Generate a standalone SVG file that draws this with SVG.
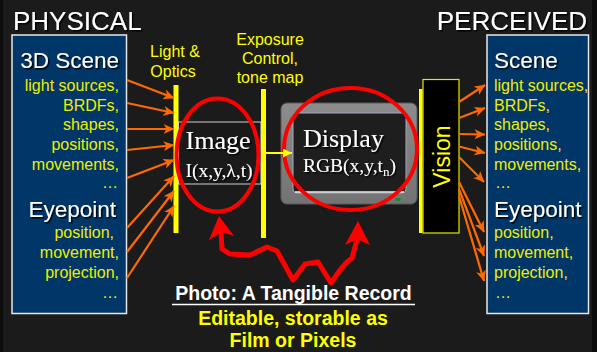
<svg xmlns="http://www.w3.org/2000/svg" width="597" height="352" viewBox="0 0 597 352">
  <defs>
    <filter id="shadow" x="-10%" y="-20%" width="130%" height="160%">
      <feDropShadow dx="1.5" dy="1.5" stdDeviation="0.4" flood-color="#000" flood-opacity="0.9"/>
    </filter>
    <marker id="orangeHead" markerUnits="userSpaceOnUse" markerWidth="11" markerHeight="10" viewBox="0 0 11 10" refX="10.5" refY="5" orient="auto">
      <path d="M0,0 L11,5 L0,10 L3,5 z" fill="#ff6a00"/>
    </marker>
    <marker id="yellowHead" markerUnits="userSpaceOnUse" markerWidth="9" markerHeight="9" viewBox="0 0 9 9" refX="9" refY="4.5" orient="auto">
      <path d="M0,0 L9,4.5 L0,9 z" fill="#ffff00"/>
    </marker>
    <linearGradient id="bezel" x1="0" y1="0" x2="0" y2="1">
      <stop offset="0" stop-color="#8c8c8c"/>
      <stop offset="1" stop-color="#737373"/>
    </linearGradient>
  </defs>
  <style>
    .title { font-family: "Liberation Sans", Arial, sans-serif; font-size: 26px; fill: #ffffff; }
    .head { font-family: "Liberation Sans", Arial, sans-serif; font-size: 22.5px; fill: #ffffff; }
    .item { font-family: "Liberation Sans", Arial, sans-serif; font-size: 16px; fill: #eeee00; }
    .label { font-family: "Liberation Sans", Arial, sans-serif; font-size: 16px; fill: #ffff00; text-anchor: middle; }
    .serif { font-family: "Liberation Serif", "Times New Roman", serif; fill: #ffffff; }
    .bold { font-family: "Liberation Sans", Arial, sans-serif; font-size: 19.5px; font-weight: bold; text-anchor: middle; }
    .box { fill: #003668; stroke: #e8e8e8; stroke-width: 1.5; }
    .bar { fill: #ffff00; }
    .ring { fill: none; stroke: #ff0000; stroke-width: 4; }
    .ray { stroke: #ff6a00; stroke-width: 2.2; fill: none; marker-end: url(#orangeHead); }
  </style>

  <!-- backdrop -->
  <rect x="0" y="0" width="597" height="352" fill="#1b1b1b"/>
  <rect x="0" y="0" width="3" height="352" fill="#0c0c0c"/>
  <rect x="592" y="0" width="5" height="352" fill="#0c0c0c"/>

  <!-- column titles -->
  <text class="title" x="13" y="30" filter="url(#shadow)">PHYSICAL</text>
  <text class="title" x="587" y="30" text-anchor="end" filter="url(#shadow)">PERCEIVED</text>

  <!-- physical scene box -->
  <g id="physical">
    <rect class="box" x="12" y="35" width="114.5" height="278.5"/>
    <g text-anchor="end">
      <text class="head" x="119" y="68" filter="url(#shadow)">3D Scene</text>
      <text class="item" x="119" y="91">light sources,</text>
      <text class="item" x="119" y="111">BRDFs,</text>
      <text class="item" x="119" y="130">shapes,</text>
      <text class="item" x="119" y="150">positions,</text>
      <text class="item" x="119" y="170">movements,</text>
      <text class="item" x="118" y="188">…</text>
      <text class="head" x="116" y="217" filter="url(#shadow)">Eyepoint</text>
      <text class="item" x="114" y="238">position,</text>
      <text class="item" x="119" y="258">movement,</text>
      <text class="item" x="119" y="278">projection,</text>
      <text class="item" x="118" y="298">…</text>
    </g>
  </g>

  <!-- light & optics stage -->
  <g id="optics">
    <text class="label" x="175" y="57">Light &amp;</text>
    <text class="label" x="173" y="77">Optics</text>
    <rect class="bar" x="173.5" y="85" width="5" height="148"/>
  </g>

  <!-- image plane -->
  <g id="image">
    <rect x="178.5" y="122" width="82.5" height="62" fill="#1a1a1a" stroke="#d0d0d0" stroke-width="1"/>
    <text class="serif" x="218" y="149" font-size="26" text-anchor="middle" filter="url(#shadow)">Image</text>
    <text class="serif" x="219" y="177" font-size="19.5" text-anchor="middle" filter="url(#shadow)">I(x,y,λ,t)</text>
    <ellipse class="ring" cx="217.5" cy="155" rx="41" ry="56.5"/>
  </g>

  <!-- exposure control stage -->
  <g id="exposure">
    <text class="label" x="270" y="45">Exposure</text>
    <text class="label" x="270" y="64">Control,</text>
    <text class="label" x="270" y="83">tone map</text>
    <rect class="bar" x="261" y="89" width="5" height="149"/>
  </g>

  <!-- display monitor -->
  <g id="display">
    <rect x="281" y="103" width="136" height="101" rx="6" fill="url(#bezel)" stroke="#5a5a5a" stroke-width="1"/>
    <rect x="293" y="113" width="113" height="80" rx="4" fill="#1e1e1e" stroke="#a8a8c0" stroke-width="1"/>
    <line x1="295" y1="192" x2="404" y2="192" stroke="#f0f0f0" stroke-width="1.5"/>
    <rect x="395.5" y="198" width="5" height="3" fill="#1e8a30"/>
    <text class="serif" x="303" y="147" font-size="26" filter="url(#shadow)">Display</text>
    <text class="serif" x="303" y="172" font-size="19.5" filter="url(#shadow)">RGB(x,y,t<tspan font-size="13" dy="4">n</tspan><tspan dy="-4">)</tspan></text>
    <ellipse class="ring" cx="350.5" cy="149" rx="66.5" ry="61"/>
  </g>

  <!-- vision stage -->
  <g id="vision">
    <rect x="419" y="89" width="3.5" height="144" fill="#ffff00"/>
    <rect x="423" y="79.5" width="36" height="153.5" fill="#000000" stroke="#e6e600" stroke-width="1.2"/>
    <text x="449.5" y="156.5" transform="rotate(-90 449.5 156.5)" text-anchor="middle" font-family="Liberation Sans, Arial, sans-serif" font-size="23" fill="#ffff00">Vision</text>
  </g>

  <!-- perceived scene box -->
  <g id="perceived">
    <rect class="box" x="487" y="35" width="101.5" height="278.5"/>
    <text class="head" x="494" y="68" filter="url(#shadow)">Scene</text>
    <text class="item" x="494" y="91">light sources,</text>
    <text class="item" x="494" y="111">BRDFs,</text>
    <text class="item" x="494" y="130">shapes,</text>
    <text class="item" x="494" y="150">positions,</text>
    <text class="item" x="494" y="170">movements,</text>
    <text class="item" x="495" y="188">…</text>
    <text class="head" x="494" y="217" filter="url(#shadow)">Eyepoint</text>
    <text class="item" x="494" y="238">position,</text>
    <text class="item" x="494" y="258">movement,</text>
    <text class="item" x="494" y="278">projection,</text>
    <text class="item" x="495" y="298">…</text>
  </g>

  <!-- connectors -->
  <g id="connectors">
    <!-- scene to optics -->
    <line class="ray" x1="127" y1="80" x2="174" y2="98"/>
    <line class="ray" x1="127" y1="103" x2="174" y2="113"/>
    <line class="ray" x1="127" y1="129" x2="174" y2="129"/>
    <line class="ray" x1="127" y1="150" x2="174" y2="145"/>
    <line class="ray" x1="127" y1="178" x2="174" y2="160"/>
    <line class="ray" x1="127" y1="228" x2="174" y2="176"/>
    <line class="ray" x1="127" y1="252" x2="174" y2="191"/>
    <line class="ray" x1="127" y1="278" x2="174" y2="206"/>
    <!-- vision to perceived scene -->
    <line class="ray" x1="459" y1="102" x2="485" y2="85"/>
    <line class="ray" x1="459" y1="118" x2="485" y2="108"/>
    <line class="ray" x1="459" y1="134" x2="485" y2="134.5"/>
    <line class="ray" x1="459" y1="146.5" x2="485" y2="153"/>
    <line class="ray" x1="459" y1="157" x2="484" y2="182"/>
    <line class="ray" x1="459" y1="182" x2="484" y2="232"/>
    <line class="ray" x1="459" y1="189" x2="484" y2="256"/>
    <line class="ray" x1="459" y1="196" x2="484" y2="281"/>
    <!-- exposure to display -->
    <line x1="266" y1="153" x2="292" y2="153" stroke="#ffff00" stroke-width="2" marker-end="url(#yellowHead)"/>
    <!-- tangible record link between image and display -->
    <polyline points="221,232 222,249 230,254 250,255 267,247 277,251 293,280 305,264 318,262 331,283 340,270 347,262 352,258 357,240" fill="none" stroke="#ff0000" stroke-width="5" stroke-linejoin="round" stroke-linecap="round"/>
    <polygon points="219,216 234,236 222,232 209,240" fill="#ff0000"/>
    <polygon points="358,221 370,245 357,239 345,245" fill="#ff0000"/>
  </g>

  <!-- caption -->
  <g id="caption">
    <text class="bold" x="293.5" y="300" fill="#ffffff">Photo: A Tangible Record</text>
    <line x1="172" y1="304.5" x2="415" y2="304.5" stroke="#ffffff" stroke-width="1.6"/>
    <text class="bold" x="293" y="325" fill="#ffff00">Editable, storable as</text>
    <text class="bold" x="293" y="347" fill="#ffff00">Film or Pixels</text>
  </g>
</svg>
